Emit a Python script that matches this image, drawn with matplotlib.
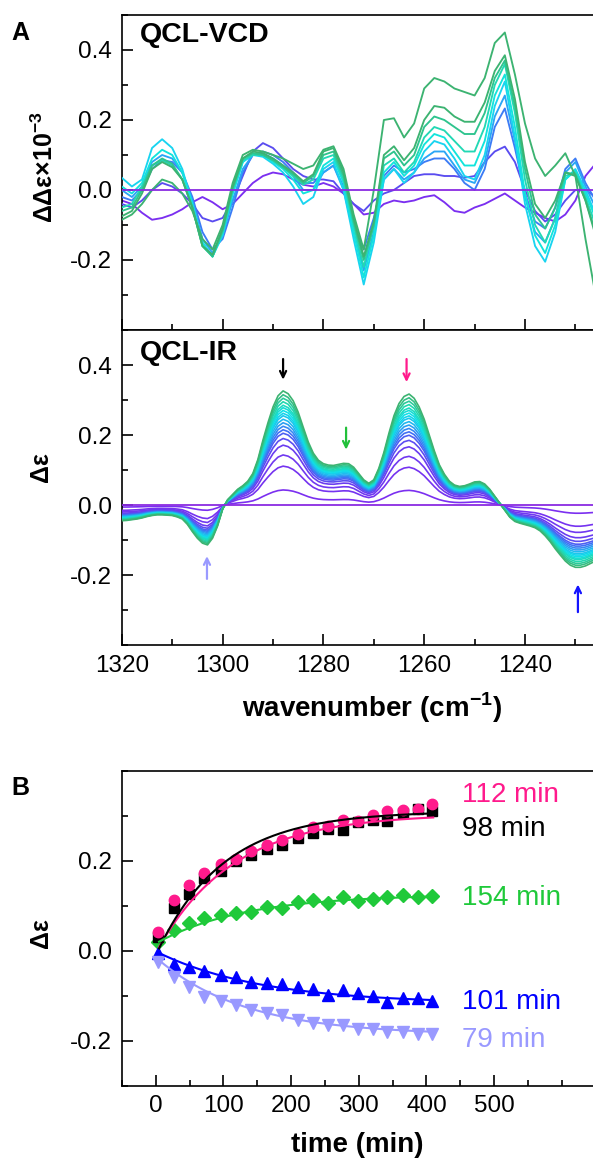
import numpy as np
import matplotlib
matplotlib.use('Agg')
import matplotlib.pyplot as plt
from matplotlib.colors import LinearSegmentedColormap
from matplotlib.ticker import MultipleLocator

plt.rcParams['font.family'] = ['Liberation Sans', 'DejaVu Sans']
plt.rcParams['mathtext.fontset'] = 'custom'
plt.rcParams['mathtext.rm'] = 'Liberation Sans'
plt.rcParams['mathtext.bf'] = 'Liberation Sans:bold'
plt.rcParams['axes.unicode_minus'] = False

# wavenumber grids (cm-1)
wn = np.arange(1320, 1225, -2)     # VCD, 1320 ... 1226 step 2
wn_ir = np.arange(1320, 1225, -1)  # IR,  1320 ... 1226 step 1

# QCL-VCD spectra (ΔΔε x 1e-3), early -> late
vcd_early = [-0.03, -0.04, -0.065, -0.085, -0.08, -0.07, -0.055, -0.035,
             -0.02, -0.035, -0.055, -0.04, -0.01, 0.02, 0.04, 0.05,
             0.045, 0.03, 0.015, 0.01, 0.02, 0.01, -0.01, -0.04,
             -0.07, -0.065, -0.04, -0.03, -0.035, -0.03, -0.02, -0.015,
             -0.035, -0.06, -0.065, -0.05, -0.04, -0.025, -0.01, -0.03,
             -0.05, -0.065, -0.08, -0.09, -0.07, -0.03, 0.04, 0.075]
vcd_violet = [-0.04, -0.05, -0.03, 0.0, 0.02, 0.01, -0.01, -0.04,
              -0.08, -0.09, -0.08, -0.03, 0.04, 0.11, 0.134, 0.12,
              0.09, 0.06, 0.04, 0.03, 0.03, 0.025, -0.01, -0.04,
              -0.06, -0.03, -0.01, 0.0, 0.02, 0.04, 0.045, 0.045,
              0.04, 0.04, 0.035, 0.04, 0.08, 0.11, 0.124, 0.08,
              0.0, -0.06, -0.09, -0.07, -0.03, 0.0, 0.0, -0.02]
vcd_blue = [-0.02, -0.03, 0.0, 0.06, 0.085, 0.08, 0.05, -0.02,
            -0.12, -0.17, -0.14, -0.05, 0.05, 0.10, 0.11, 0.10,
            0.08, 0.05, 0.02, 0.02, 0.05, 0.07, 0.01, -0.10,
            -0.17, -0.08, 0.04, 0.07, 0.05, 0.06, 0.08, 0.09,
            0.09, 0.06, 0.02, 0.0, 0.06, 0.18, 0.233, 0.12,
            -0.01, -0.09, -0.11, -0.05, 0.06, 0.09, 0.02, -0.03]
vcd_sky = [0.0, -0.02, 0.01, 0.08, 0.10, 0.09, 0.05, -0.03,
           -0.14, -0.18, -0.13, -0.03, 0.06, 0.10, 0.105, 0.09,
           0.07, 0.04, 0.0, 0.0, 0.05, 0.07, 0.0, -0.12,
           -0.23, -0.12, 0.03, 0.06, 0.03, 0.05, 0.09, 0.11,
           0.11, 0.07, 0.03, 0.02, 0.08, 0.21, 0.27, 0.14,
           -0.02, -0.12, -0.15, -0.08, 0.05, 0.08, 0.01, -0.05]
vcd_cyan = [0.035, 0.01, 0.03, 0.12, 0.145, 0.12, 0.06, -0.04,
            -0.15, -0.19, -0.13, -0.01, 0.08, 0.10, 0.095, 0.075,
            0.05, 0.01, -0.04, -0.02, 0.06, 0.08, 0.0, -0.14,
            -0.27, -0.15, 0.03, 0.06, 0.02, 0.05, 0.11, 0.14,
            0.13, 0.09, 0.04, 0.03, 0.10, 0.24, 0.31, 0.15,
            -0.04, -0.16, -0.205, -0.12, 0.03, 0.06, 0.0, -0.07]
vcd_cyan2 = [0.01, -0.01, 0.02, 0.09, 0.115, 0.10, 0.05, -0.04,
             -0.15, -0.19, -0.12, -0.01, 0.08, 0.105, 0.10, 0.08,
             0.06, 0.03, -0.01, 0.0, 0.07, 0.09, 0.02, -0.12,
             -0.25, -0.13, 0.05, 0.08, 0.04, 0.07, 0.13, 0.16,
             0.15, 0.11, 0.07, 0.07, 0.14, 0.27, 0.33, 0.18,
             -0.01, -0.13, -0.18, -0.10, 0.03, 0.055, -0.01, -0.08]
vcd_teal = [-0.05, -0.04, 0.01, 0.07, 0.085, 0.07, 0.03, -0.05,
            -0.16, -0.19, -0.12, 0.0, 0.085, 0.10, 0.10, 0.085,
            0.065, 0.04, 0.015, 0.03, 0.09, 0.10, 0.03, -0.10,
            -0.22, -0.10, 0.07, 0.09, 0.05, 0.08, 0.15, 0.18,
            0.17, 0.14, 0.11, 0.11, 0.18, 0.30, 0.36, 0.22,
            0.03, -0.10, -0.15, -0.08, 0.04, 0.05, -0.02, -0.10]
vcd_green2 = [-0.06, -0.05, 0.0, 0.07, 0.09, 0.075, 0.03, -0.05,
              -0.16, -0.19, -0.115, 0.005, 0.09, 0.105, 0.10, 0.085,
              0.065, 0.045, 0.02, 0.04, 0.10, 0.11, 0.04, -0.09,
              -0.20, -0.10, 0.09, 0.11, 0.07, 0.10, 0.18, 0.21,
              0.20, 0.18, 0.16, 0.16, 0.22, 0.32, 0.37, 0.24,
              0.06, -0.07, -0.11, -0.05, 0.05, 0.045, -0.03, -0.12]
vcd_green = [-0.075, -0.06, -0.01, 0.06, 0.08, 0.065, 0.03, -0.05,
             -0.16, -0.185, -0.11, 0.01, 0.09, 0.11, 0.105, 0.09,
             0.07, 0.05, 0.025, 0.045, 0.11, 0.12, 0.05, -0.08,
             -0.19, -0.09, 0.10, 0.125, 0.085, 0.12, 0.20, 0.24,
             0.235, 0.21, 0.195, 0.195, 0.25, 0.34, 0.385, 0.26,
             0.08, -0.04, -0.08, -0.03, 0.05, 0.04, -0.03, -0.13]
vcd_top = [-0.085, -0.07, -0.04, 0.0, 0.03, 0.02, -0.01, -0.06,
           -0.14, -0.17, -0.10, 0.02, 0.10, 0.115, 0.11, 0.10,
           0.09, 0.075, 0.06, 0.07, 0.115, 0.125, 0.06, -0.07,
           -0.17, 0.0, 0.20, 0.205, 0.15, 0.19, 0.29, 0.32,
           0.31, 0.29, 0.28, 0.27, 0.32, 0.42, 0.45, 0.33,
           0.19, 0.09, 0.04, 0.07, 0.105, 0.04, -0.14, -0.30]
vcd_series = [vcd_early, vcd_violet, vcd_blue, vcd_sky, vcd_cyan, vcd_cyan2,
              vcd_teal, vcd_green2, vcd_green, vcd_top]
vcd_colors = ['#7b2ff0', '#5a4cf0', '#3c7cf5', '#2aa6f5', '#19d4f0', '#12e4dc',
              '#22d8b4', '#2ec48e', '#3cb371', '#3cb371']

# QCL-IR spectrum at the end of the series (Δε), 1 cm-1 steps
ir_final = [-0.045, -0.044, -0.042, -0.04, -0.037, -0.033, -0.03, -0.028, -0.028, -0.029,
            -0.03, -0.034, -0.04, -0.055, -0.076, -0.095, -0.109, -0.114, -0.095, -0.06,
            -0.012, 0.015, 0.03, 0.045, 0.055, 0.068, 0.09, 0.13, 0.185, 0.235,
            0.28, 0.312, 0.326, 0.318, 0.298, 0.265, 0.222, 0.18, 0.148, 0.128,
            0.118, 0.114, 0.113, 0.116, 0.119, 0.118, 0.108, 0.09, 0.072, 0.062,
            0.072, 0.105, 0.15, 0.205, 0.255, 0.29, 0.31, 0.317, 0.305, 0.28,
            0.245, 0.2, 0.155, 0.115, 0.088, 0.068, 0.057, 0.053, 0.055, 0.06,
            0.066, 0.067, 0.06, 0.045, 0.025, 0.005, -0.015, -0.035, -0.047, -0.052,
            -0.056, -0.06, -0.065, -0.074, -0.088, -0.105, -0.125, -0.143, -0.16, -0.172,
            -0.178, -0.178, -0.174, -0.167, -0.16]
# peak height at 1288 cm-1 of each IR trace (bottom -> top)
ir_peak_1288 = [0.043, 0.111, 0.143, 0.171, 0.19, 0.205, 0.215, 0.225, 0.235, 0.245,
                0.255, 0.262, 0.27, 0.278, 0.285, 0.295, 0.305, 0.315, 0.326]

# panel B kinetics
t_min = [4, 27, 49, 72, 96, 118, 141, 165, 187, 211, 232, 254, 277, 299, 321, 342, 366, 388, 408]
pink_1263 = [0.042, 0.113, 0.146, 0.173, 0.193, 0.203, 0.222, 0.235, 0.247, 0.259,
             0.276, 0.277, 0.29, 0.289, 0.301, 0.311, 0.313, 0.314, 0.326]
black_1288 = [0.031, 0.094, 0.127, 0.161, 0.177, 0.2, 0.213, 0.225, 0.235, 0.25,
              0.261, 0.27, 0.268, 0.287, 0.29, 0.289, 0.305, 0.314, 0.31]
green_1276 = [0.02, 0.047, 0.061, 0.072, 0.079, 0.083, 0.087, 0.098, 0.094, 0.109,
              0.113, 0.107, 0.119, 0.111, 0.114, 0.12, 0.124, 0.12, 0.121]
blue_1230 = [-0.004, -0.03, -0.036, -0.044, -0.054, -0.059, -0.069, -0.071, -0.073, -0.08,
             -0.084, -0.099, -0.087, -0.095, -0.101, -0.113, -0.104, -0.106, -0.111]
lav_1303 = [-0.024, -0.058, -0.081, -0.102, -0.111, -0.121, -0.132, -0.139, -0.143, -0.154,
            -0.16, -0.165, -0.165, -0.173, -0.173, -0.18, -0.18, -0.185, -0.185]
tau_labels = ['112 min', '98 min', '154 min', '101 min', '79 min']
# fitted curves as drawn: value at t=5, plateau and shape constant (min)
fit_start = [0.008, 0.005, 0.02, -0.005, -0.021]
fit_plateau = [0.304, 0.31, 0.125, -0.118, -0.1875]
fit_tau = [112, 98, 130, 155, 130]
label_y = [0.345, 0.271, 0.117, -0.113, -0.198]

# arrows in the IR panel: wavenumber, tail, tip, colour
arrow_wn = [1288, 1263.5, 1275.5, 1303.1, 1229.5]
arrow_tail = [0.425, 0.425, 0.229, -0.219, -0.314]
arrow_tip = [0.35, 0.343, 0.15, -0.138, -0.219]
arrow_col = ['black', '#ff1a8c', '#22c03a', '#9a9aff', '#1414ff']

pink = '#ff1a8c'
green = '#1fc93a'
blue = '#0000ff'
lav = '#9999ff'

TICK_FS = 17.5


def style_axis(ax):
    for sp in ax.spines.values():
        sp.set_linewidth(1.2)
    ax.tick_params(which='both', direction='in', width=1.2, labelsize=TICK_FS, pad=7,
                   top=False, right=False)
    ax.tick_params(which='major', length=8)
    ax.tick_params(which='minor', length=4)


W, H = 593, 1160
fig = plt.figure(figsize=(W / 100, H / 100), dpi=100)

px_per_wn = 5.04
ax1 = fig.add_axes([121.8 / W, (H - 330) / H, 120 * px_per_wn / W, 315 / H])
ax2 = fig.add_axes([121.8 / W, (H - 645) / H, 120 * px_per_wn / W, 315 / H])
ax3 = fig.add_axes([121.8 / W, (H - 1085.7) / H, 850 * 0.677 / W, 315 / H])

# ---- QCL-VCD
for i, spec in enumerate(vcd_series):
    ax1.plot(wn, spec, color=vcd_colors[i], lw=1.35, solid_joinstyle='round', zorder=2 + i)
ax1.axhline(0, color='#8a2be2', lw=1.3, zorder=20)
ax1.set_xlim(1320, 1200)
ax1.set_ylim(-0.4, 0.5)
ax1.set_yticks([-0.2, 0.0, 0.2, 0.4])
ax1.yaxis.set_minor_locator(MultipleLocator(0.1))
ax1.set_xticks([1320, 1300, 1280, 1260, 1240])
ax1.xaxis.set_minor_locator(MultipleLocator(10))
ax1.tick_params(labelbottom=False)
ax1.yaxis.set_major_formatter(plt.FormatStrFormatter('%.1f'))
style_axis(ax1)
ax1.set_ylabel(r'ΔΔε×10$^{\mathbf{-3}}$', fontsize=18, fontweight='bold')
ax1.yaxis.set_label_coords(-0.105, 0.517)
ax1.text(0.03, 0.9365, 'QCL-VCD', transform=ax1.transAxes, fontsize=20.5,
         fontweight='bold', va='center', ha='left')

# ---- QCL-IR
cmap = LinearSegmentedColormap.from_list(
    'ir', ['#7b2ff0', '#6a3cf0', '#4070f5', '#20b8f0', '#10e0e8', '#20d8b0', '#3cb371'])
n = len(ir_peak_1288)
for i in range(n):
    scale = ir_peak_1288[i] / ir_peak_1288[-1]
    ax2.plot(wn_ir, np.asarray(ir_final) * scale, color=cmap(i / (n - 1)), lw=1.2,
             solid_joinstyle='round', zorder=2 + i)
ax2.axhline(0, color='#8a2be2', lw=1.3, zorder=25)
ax2.set_xlim(1320, 1200)
ax2.set_ylim(-0.4, 0.5)
ax2.set_yticks([-0.2, 0.0, 0.2, 0.4])
ax2.yaxis.set_minor_locator(MultipleLocator(0.1))
ax2.set_xticks([1320, 1300, 1280, 1260, 1240])
ax2.xaxis.set_minor_locator(MultipleLocator(10))
ax2.yaxis.set_major_formatter(plt.FormatStrFormatter('%.1f'))
style_axis(ax2)
ax2.set_ylabel('Δε', fontsize=18, fontweight='bold')
ax2.yaxis.set_label_coords(-0.114, 0.566)
ax2.set_xlabel(r'wavenumber (cm$^{\mathbf{-1}}$)', fontsize=20, fontweight='bold')
ax2.xaxis.set_label_coords(0.413, -0.145)
ax2.text(0.03, 0.927, 'QCL-IR', transform=ax2.transAxes, fontsize=20.5,
         fontweight='bold', va='center', ha='left')
for x, y0, y1, c in zip(arrow_wn, arrow_tail, arrow_tip, arrow_col):
    ax2.annotate('', xy=(x, y1), xytext=(x, y0),
                 arrowprops=dict(arrowstyle='->,head_length=0.45,head_width=0.22',
                                 color=c, lw=1.6), zorder=30)

# ---- panel B
tt = np.linspace(5, 410, 200)
series = [(pink_1263, pink, 'o', 7.5), (black_1288, 'black', 's', 6.5),
          (green_1276, green, 'D', 7.5), (blue_1230, blue, '^', 8.5),
          (lav_1303, lav, 'v', 8.5)]
marker_z = [5, 4, 3, 3, 3]
for k in range(5):
    y, c, m, ms = series[k]
    ax3.plot(t_min, y, ls='none', marker=m, ms=ms, color=c, mec=c, zorder=marker_z[k])
for k in range(5):
    c = series[k][1]
    fit = fit_plateau[k] - (fit_plateau[k] - fit_start[k]) * np.exp(-(tt - 5) / fit_tau[k])
    ax3.plot(tt, fit, color=c, lw=1.5, zorder=10 + k)
for k in range(5):
    ax3.text(453, label_y[k], tau_labels[k], color=series[k][1], fontsize=20,
             va='center', ha='left')
ax3.set_xlim(-50, 800)
ax3.set_ylim(-0.3, 0.4)
ax3.set_xticks([0, 100, 200, 300, 400, 500])
ax3.xaxis.set_minor_locator(MultipleLocator(50))
ax3.set_yticks([-0.2, 0.0, 0.2])
ax3.yaxis.set_minor_locator(MultipleLocator(0.1))
ax3.yaxis.set_major_formatter(plt.FormatStrFormatter('%.1f'))
style_axis(ax3)
ax3.set_ylabel('Δε', fontsize=18, fontweight='bold')
ax3.yaxis.set_label_coords(-0.1195, 0.485)
ax3.set_xlabel('time (min)', fontsize=20, fontweight='bold')
ax3.xaxis.set_label_coords(0.41, -0.148)

fig.text(20.8 / W, 1 - 33 / H, 'A', fontsize=18, fontweight='bold', ha='center', va='center')
fig.text(20.8 / W, 1 - 788 / H, 'B', fontsize=18, fontweight='bold', ha='center', va='center')

fig.savefig('out.png', dpi=100)
